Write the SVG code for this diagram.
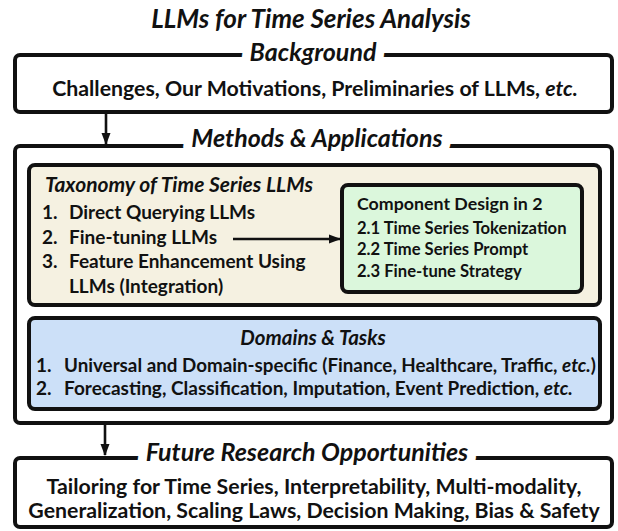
<svg xmlns="http://www.w3.org/2000/svg" width="618" height="531" viewBox="0 0 618 531">
<style>
text{font-family:Lato,"Open Sans","DejaVu Sans",sans-serif;font-weight:bold;fill:#111}
.it{font-style:italic}
.c{text-anchor:middle}
.hd{font-style:italic;text-anchor:middle;font-size:25px;stroke:#fff;stroke-width:18px;stroke-linejoin:round;paint-order:stroke}
.box{fill:#fff;stroke:#111;stroke-width:4}
.tax{fill:#f5f1e1;stroke:#111;stroke-width:4}
.cmp{fill:#dbf7dc;stroke:#111;stroke-width:4}
.dom{fill:#cce0f8;stroke:#111;stroke-width:4}
.conn{stroke:#111;stroke-width:2.6;fill:none;marker-end:url(#ah)}
.b21{font-size:21.3px}
.b19{font-size:19px}
.s16{font-size:16.6px}
</style>
<defs>
<marker id="ah" viewBox="0 0 12 10" refX="11" refY="5" markerWidth="12" markerHeight="10" markerUnits="userSpaceOnUse" orient="auto">
<path d="M0,0.5 L12,5 L0,9.5 Z" fill="#111"/>
</marker>
</defs>
<text class="it c" x="311" y="28" font-size="26">LLMs for Time Series Analysis</text>
<g id="background">
<rect class="box" x="15" y="55" width="597" height="57" rx="5"/>
<text class="hd" x="313" y="61" font-size="26">Background</text>
<text class="c b21" x="315" y="96">Challenges, Our Motivations, Preliminaries of LLMs, <tspan class="it">etc.</tspan></text>
</g>
<g id="methods">
<rect class="box" x="15" y="146" width="597" height="277" rx="5"/>
<text class="hd" x="317" y="147">Methods &amp; Applications</text>
</g>
<g id="taxonomy">
<rect class="tax" x="29" y="165" width="571" height="140" rx="6"/>
<text class="it" x="45" y="192" font-size="21">Taxonomy of Time Series LLMs</text>
<text class="b19" x="42" y="219">1.</text><text class="b19" x="69" y="219">Direct Querying LLMs</text>
<text class="b19" x="42" y="244">2.</text><text class="b19" x="69" y="244">Fine-tuning LLMs</text>
<text class="b19" x="42" y="268">3.</text><text class="b19" x="69" y="268">Feature Enhancement Using</text>
<text class="b19" x="69" y="293">LLMs (Integration)</text>
</g>
<g id="component">
<rect class="cmp" x="342" y="185" width="240" height="107" rx="6"/>
<text x="357" y="210" font-size="17.8">Component Design in 2</text>
<text class="s16" x="357" y="234">2.1 Time Series Tokenization</text>
<text class="s16" x="357" y="255">2.2 Time Series Prompt</text>
<text class="s16" x="357" y="277">2.3 Fine-tune Strategy</text>
</g>
<g id="domains">
<rect class="dom" x="29" y="318" width="571" height="91" rx="6"/>
<text class="it c" x="313" y="345" font-size="20.5">Domains &amp; Tasks</text>
<text class="b19" x="36" y="372">1.</text><text x="64" y="372" font-size="18.8">Universal and Domain-specific (Finance, Healthcare, Traffic, <tspan class="it">etc.</tspan>)</text>
<text class="b19" x="36" y="395">2.</text><text class="b19" x="64" y="395">Forecasting, Classification, Imputation, Event Prediction, <tspan class="it">etc.</tspan></text>
</g>
<g id="future">
<rect class="box" x="15" y="458" width="597" height="69" rx="5"/>
<text class="hd" x="307" y="461" font-size="24">Future Research Opportunities</text>
<text class="c b21" x="314" y="494">Tailoring for Time Series, Interpretability, Multi-modality,</text>
<text class="c b21" x="314" y="518">Generalization, Scaling Laws, Decision Making, Bias &amp; Safety</text>
</g>
<g id="connectors">
<line class="conn" x1="106" y1="114" x2="106" y2="144"/>
<line class="conn" x1="233" y1="239" x2="340" y2="239"/>
<line class="conn" x1="105" y1="425" x2="105" y2="455"/>
</g>
</svg>
